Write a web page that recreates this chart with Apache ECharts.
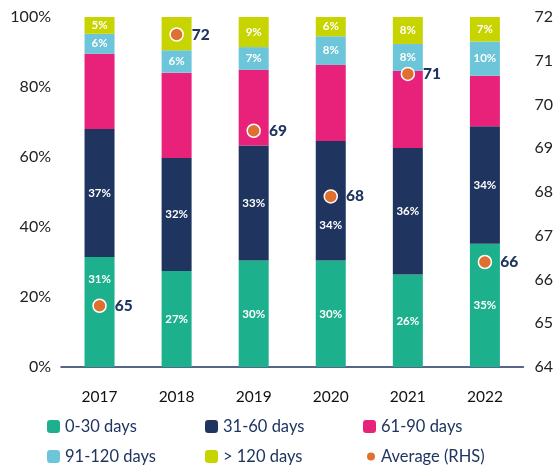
<!DOCTYPE html>
<html>
<head>
<meta charset="utf-8">
<script src="https://cdn.jsdelivr.net/npm/echarts@6/dist/echarts.min.js"></script>
<style>
html,body{margin:0;padding:0;background:#fff;}
#main{width:556px;height:466px;}
</style>
</head>
<body>
<div id="main"></div>
<script>
// categories and values
var years = ['2017','2018','2019','2020','2021','2022'];
var d0_30 = [31.4, 27.4, 30.4, 30.4, 26.4, 35.2];
var d31_60 = [36.6, 32.3, 32.9, 34.2, 36.2, 33.6];
var d61_90 = [21.5, 24.4, 21.6, 21.7, 22.0, 14.4];
var d91_120 = [5.7, 6.4, 6.5, 8.2, 7.7, 9.8];
var d120 = [4.8, 9.5, 8.6, 5.5, 7.7, 7.0];
var avgDays = [65.4, 71.6, 69.4, 67.9, 70.7, 66.4];
var leftTicks = {min:0, max:100, interval:20};
var rightTicks = {min:64, max:72, interval:1};

var navy = '#1f3560';
var font = 'Lato';

function pct(p){ return Math.round(p.value) + '%'; }

function barLabel(){
	return {show:true, position:'inside', color:'#fff', fontWeight:'bold', fontSize:11.5, fontFamily:font, formatter:pct};
}

//每个图例单独放置
function legendAt(name, left, top, icon){
	var lg = {
		left:left, top:top, padding:0,
		itemWidth:13, itemHeight:13, itemGap:0,
		textStyle:{color:navy, fontSize:16.5, fontFamily:font},
		data:[name]
	};
	if(icon){
		lg.data = [{name:name, icon:icon}];
		lg.itemWidth = 10;
		lg.itemHeight = 10;
	}
	return lg;
}

var myChart = echarts.init(document.getElementById('main'));
var option = {
	animation:false,
	grid:{left:61, right:31, top:17, bottom:99},
	color:['#1db08c', navy, '#e8227a', '#6cc5d8', '#c8d400', '#e07030'],
	legend:[
		legendAt('0-30 days', 47, 418),
		legendAt('31-60 days', 205, 418),
		legendAt('61-90 days', 363, 418),
		legendAt('91-120 days', 47, 448),
		legendAt('> 120 days', 205, 448),
		legendAt('Average (RHS)', 365, 448, 'circle')
	],
	xAxis:[{
		type:'category',
		data:years,
		axisTick:{show:false},
		axisLine:{lineStyle:{color:navy, width:1.5}},
		axisLabel:{color:'#111', fontSize:15.5, fontFamily:font, margin:22}
	}],
	yAxis:[
		{
			type:'value', min:leftTicks.min, max:leftTicks.max, interval:leftTicks.interval,
			splitLine:{show:false},
			axisLabel:{formatter:'{value}%', color:'#222', fontSize:16, fontFamily:font, margin:10}
		},
		{
			type:'value', min:rightTicks.min, max:rightTicks.max, interval:rightTicks.interval,
			splitLine:{show:false},
			axisLabel:{color:'#222', fontSize:16, fontFamily:font, margin:11}
		}
	],
	series:[
		{
			name:'0-30 days', type:'bar', stack:'a', barWidth:30,
			label:barLabel(),
			data:d0_30.map(function(v,i){
				return i === 0 ? {value:v, label:{offset:[0,-33]}} : v;
			})
		},
		{
			name:'31-60 days', type:'bar', stack:'a',
			label:barLabel(),
			data:d31_60.map(function(v,i){
				return i === 3 ? {value:v, label:{offset:[0,25]}} : v;
			})
		},
		{
			name:'61-90 days', type:'bar', stack:'a',
			data:d61_90
		},
		{
			name:'91-120 days', type:'bar', stack:'a',
			label:barLabel(),
			data:d91_120
		},
		{
			name:'> 120 days', type:'bar', stack:'a',
			label:barLabel(),
			data:d120.map(function(v,i){
				return i === 1 ? {value:v, label:{show:false}} : v;
			})
		},
		{
			name:'Average (RHS)', type:'scatter', yAxisIndex:1,
			symbolSize:13,
			itemStyle:{color:'#e07030', borderColor:'#fff', borderWidth:1.5, opacity:1},
			label:{show:true, position:'right', distance:8, color:navy, fontWeight:900, fontSize:15.5, fontFamily:font,
				formatter:function(p){ return Math.round(p.value); }},
			emphasis:{disabled:true},
			data:avgDays,
			z:5
		}
	]
};
myChart.setOption(option);
</script>
</body>
</html>
